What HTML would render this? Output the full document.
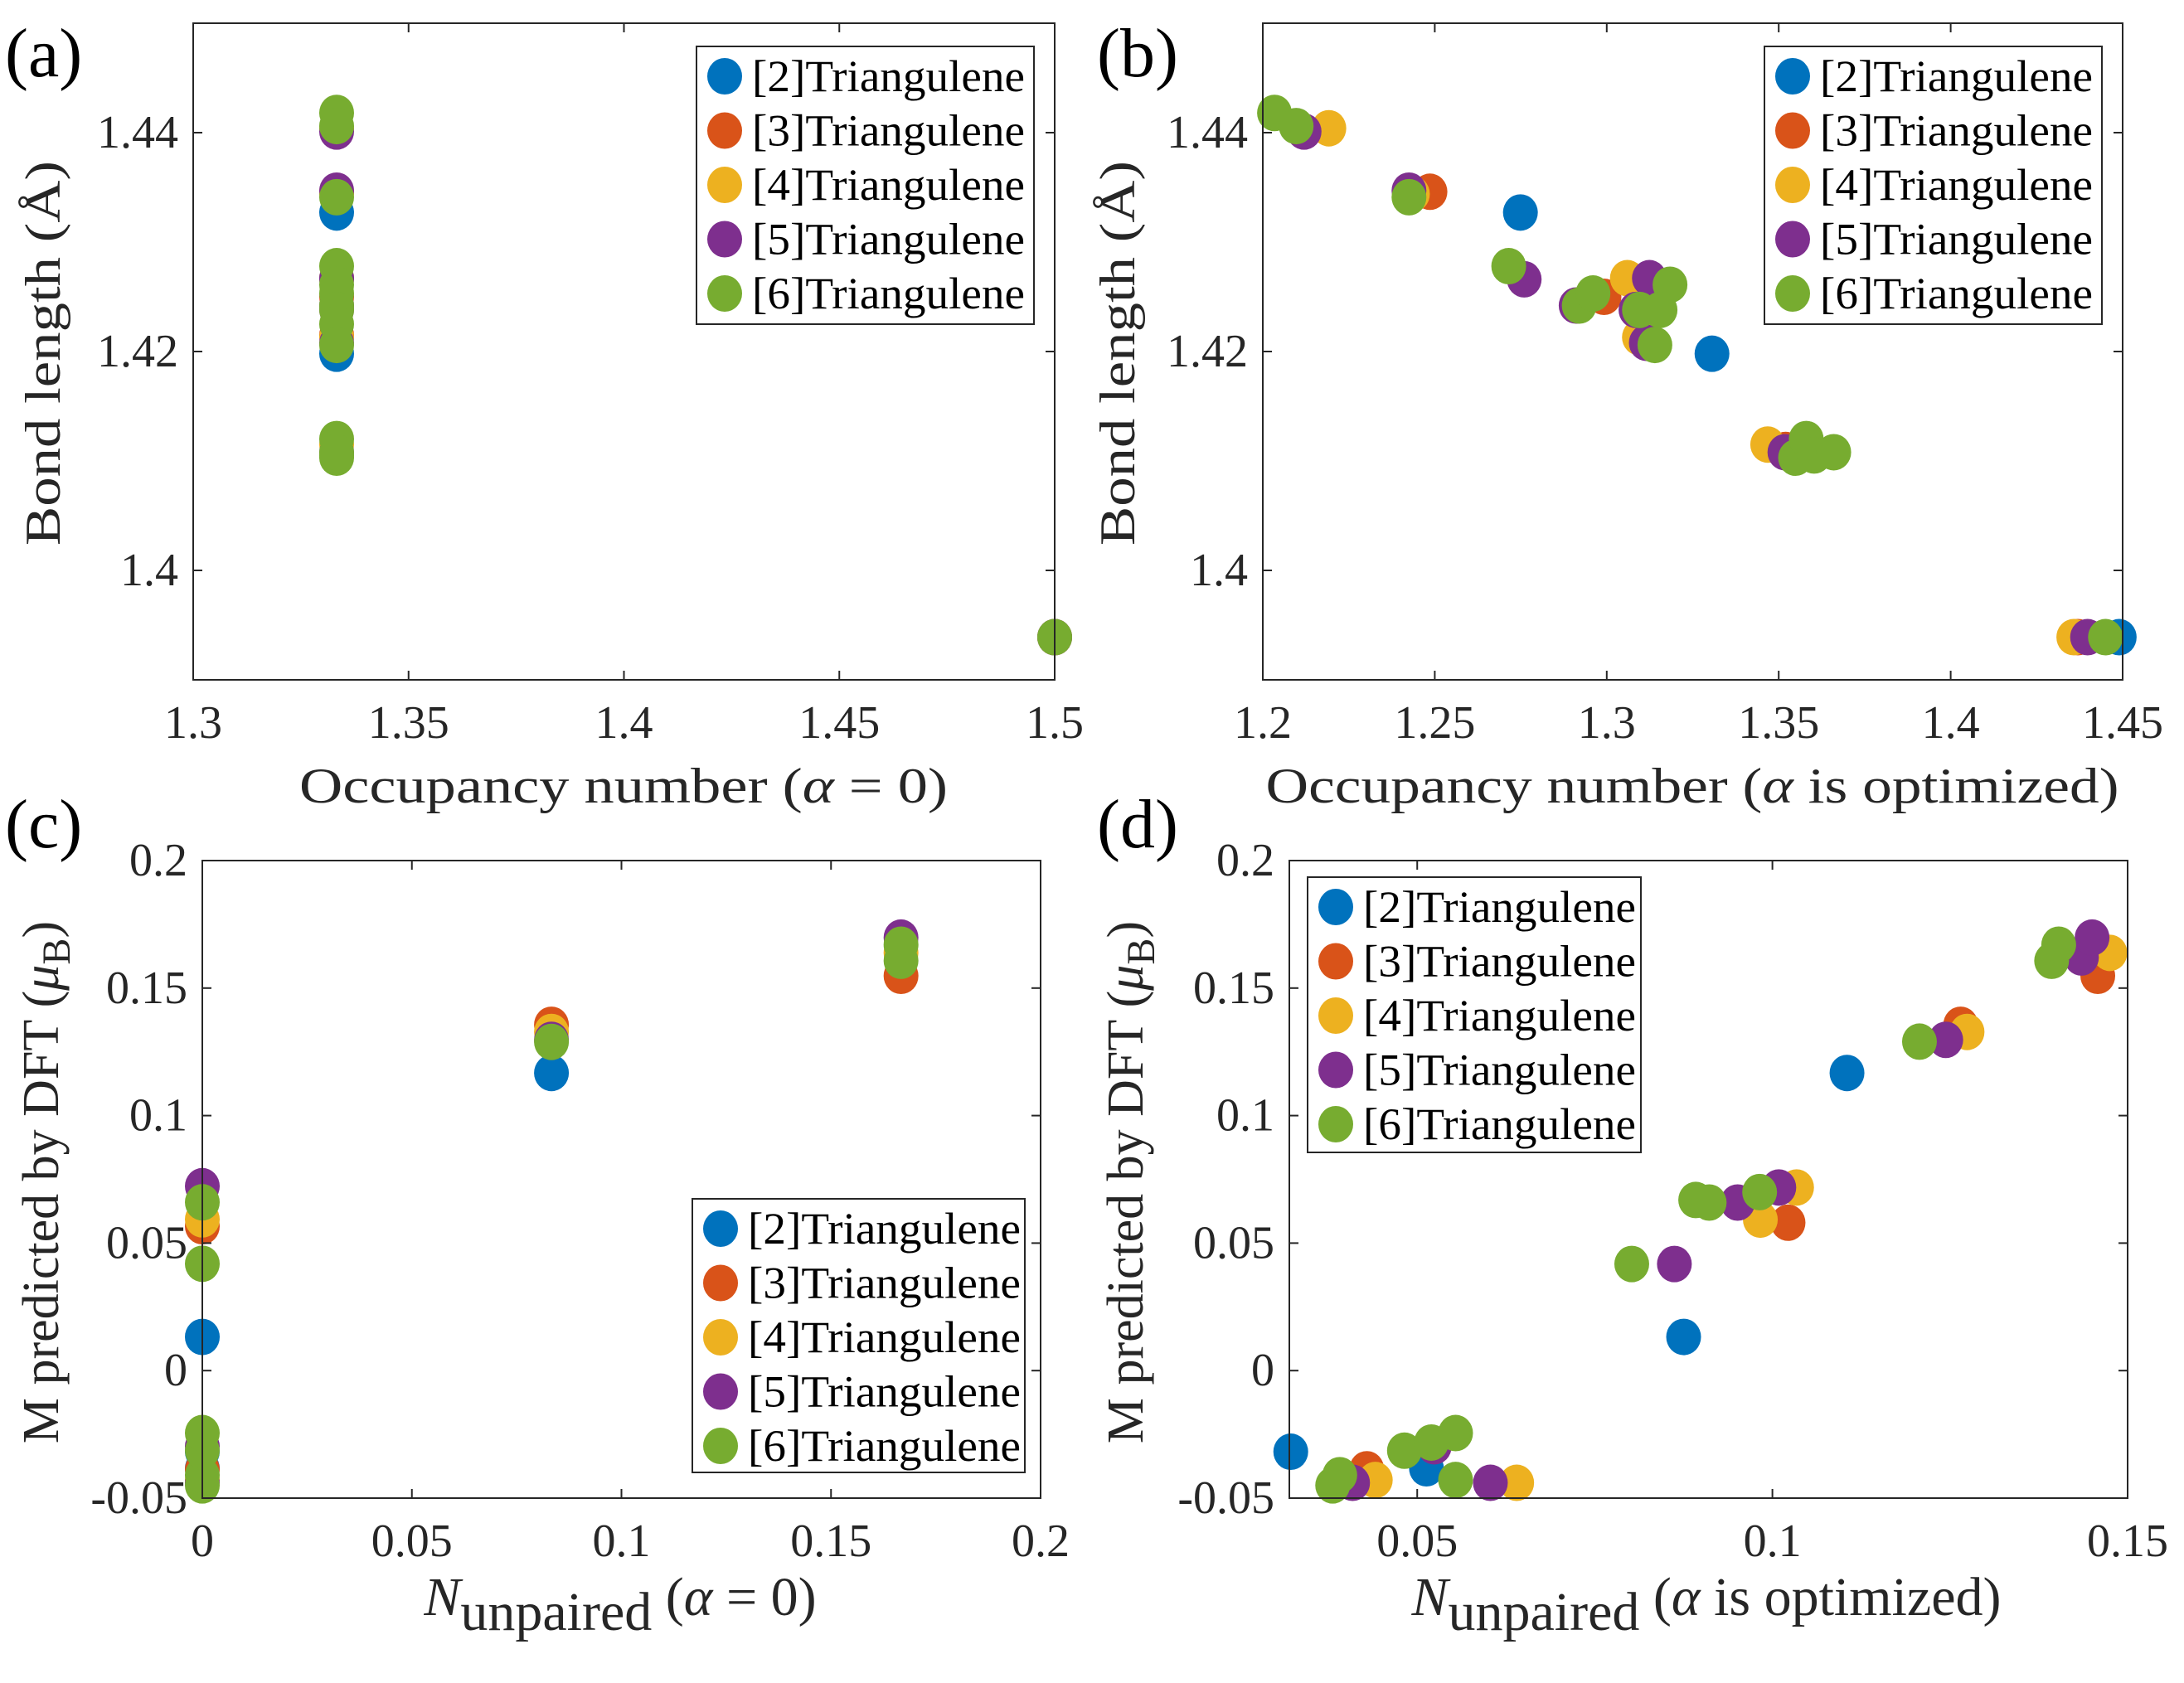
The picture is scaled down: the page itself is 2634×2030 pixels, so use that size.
<!DOCTYPE html>
<html><head><meta charset="utf-8"><style>
html,body{margin:0;padding:0;background:#fff;}
svg, svg text{font-family:"Liberation Serif","Noto Serif CJK SC","DejaVu Serif",serif;}
</style></head><body>
<svg id="fig" width="2634" height="2025" viewBox="0 0 2634 2025" xmlns="http://www.w3.org/2000/svg">
<rect x="0" y="0" width="2634" height="2025" fill="#fff"/>
</svg>
<script>
const seriesNames = ["[2]Triangulene","[3]Triangulene","[4]Triangulene","[5]Triangulene","[6]Triangulene"];
const seriesColors = ["#0072BD","#D95319","#EDB120","#7E2F8E","#77AC30"];

// Panel (a)
const aX = [
 [1.3333,1.3333,1.5],
 [1.3333,1.3333,1.3333,1.5],
 [1.3333,1.3333,1.3333,1.3333,1.3333,1.5],
 [1.3333,1.3333,1.3333,1.3333,1.3333,1.3333,1.3333,1.3333,1.5],
 [1.3333,1.3333,1.3333,1.3333,1.3333,1.3333,1.3333,1.3333,1.3333,1.3333,1.3333,1.3333,1.3333,1.3333,1.5]
];
const aY = [
 [1.4327,1.4198,1.3939],
 [1.4346,1.4250,1.4215,1.3939],
 [1.4404,1.4344,1.4267,1.4213,1.4115,1.3939],
 [1.4401,1.4347,1.4266,1.4242,1.4267,1.4238,1.4208,1.4108,1.3939],
 [1.4418,1.4406,1.4341,1.4278,1.4242,1.4253,1.4261,1.4238,1.4225,1.4206,1.4103,1.4120,1.4105,1.4108,1.3939]
];
// Panel (b)
const bX = [
 [1.2749,1.3306,1.449],
 [1.2486,1.2992,1.3100,1.352,1.437],
 [1.2192,1.2435,1.306,1.3095,1.3468,1.4358],
 [1.212,1.2425,1.276,1.2911,1.3124,1.3085,1.3115,1.3518,1.4398],
 [1.2034,1.2097,1.2425,1.2715,1.292,1.296,1.3184,1.3095,1.3155,1.314,1.3549,1.358,1.3603,1.366,1.445]
];
const bY = [
 [1.4327,1.4198,1.3939],
 [1.4346,1.4250,1.4215,1.4110,1.3939],
 [1.4404,1.4344,1.4267,1.4213,1.4115,1.3939],
 [1.4401,1.4347,1.4266,1.4242,1.4267,1.4238,1.4208,1.4108,1.3939],
 [1.4418,1.4406,1.4341,1.4278,1.4242,1.4253,1.4261,1.4238,1.4238,1.4206,1.4103,1.4120,1.4105,1.4108,1.3939]
];
// Panel (c)
const cX = [
 [0,0,0,0.0833],
 [0,0,0.0833,0.1667],
 [0,0,0.0833,0.1667],
 [0,0,0,0.0833,0.1667],
 [0,0,0,0,0,0,0.0833,0.1667,0.1667]
];
const cY = [
 [-0.0318,-0.0383,0.0132,0.1167],
 [-0.0387,0.0566,0.1356,0.1548],
 [-0.0429,0.0593,0.1328,0.1638],
 [-0.0440,-0.0297,0.0723,0.1297,0.1698],
 [-0.0450,-0.0410,-0.0314,-0.0245,0.0419,0.0660,0.1289,0.1607,0.1670]
];
// Panel (d)
const dX = [
 [0.0322,0.0513,0.0875,0.1105],
 [0.0429,0.1022,0.1265,0.1458],
 [0.0441,0.0640,0.0983,0.1034,0.1274,0.1475],
 [0.0409,0.0524,0.0603,0.0862,0.0951,0.1009,0.1244,0.1435,0.1450],
 [0.0381,0.0391,0.0482,0.0520,0.0554,0.0554,0.0802,0.0892,0.0911,0.0982,0.1207,0.1393,0.1403]
];
const dY = [
 [-0.0318,-0.0383,0.0132,0.1167],
 [-0.0387,0.0580,0.1356,0.1548],
 [-0.0429,-0.0440,0.0592,0.0718,0.1328,0.1638],
 [-0.0440,-0.0297,-0.0440,0.0418,0.0659,0.0718,0.1297,0.1620,0.1698],
 [-0.0450,-0.0410,-0.0314,-0.0282,-0.0245,-0.0429,0.0418,0.0669,0.0659,0.0700,0.1290,0.1607,0.1670]
];
const aXTicks = ["1.3","1.35","1.4","1.45","1.5"];
const aYTicks = ["1.4","1.42","1.44"];
const bXTicks = ["1.2","1.25","1.3","1.35","1.4","1.45"];
const bYTicks = ["1.4","1.42","1.44"];
const cXTicks = ["0","0.05","0.1","0.15","0.2"];
const cYTicks = ["-0.05","0","0.05","0.1","0.15","0.2"];
const dXTicks = ["0.05","0.1","0.15"];
const dYTicks = ["-0.05","0","0.05","0.1","0.15","0.2"];

const NS="http://www.w3.org/2000/svg";
const FONT='"Liberation Serif", "Noto Serif CJK SC", "DejaVu Serif", serif';
const svg=document.getElementById('fig');
function mk(tag,attrs,parent){const e=document.createElementNS(NS,tag);for(const k in attrs)e.setAttribute(k,attrs[k]);if(tag==='text')e.style.fontFamily=FONT;(parent||svg).appendChild(e);return e;}

function panel(id,box,xlim,ylim,xt,yt,X,Y,leg,lbl){
  const g=mk('g',{});
  
  
  const [L,T,R,B]=box;
  const sx=v=>L+(v-xlim[0])/(xlim[1]-xlim[0])*(R-L);
  const sy=v=>B-(v-ylim[0])/(ylim[1]-ylim[0])*(B-T);
  for(let s=0;s<X.length;s++){
    for(let i=0;i<X[s].length;i++){
      const c=mk('ellipse',{cx:sx(X[s][i]),cy:sy(Y[s][i]),rx:21,ry:22,fill:seriesColors[s]},g);
      
      
    }
  }
  const ax=mk('rect',{x:L,y:T,width:R-L,height:B-T,fill:'none',stroke:'#262626','stroke-width':2},g);
  
  
  xt.forEach(t=>{const x=sx(parseFloat(t));
    mk('line',{x1:x,x2:x,y1:B,y2:B-11,stroke:'#262626','stroke-width':2},g);
    mk('line',{x1:x,x2:x,y1:T,y2:T+11,stroke:'#262626','stroke-width':2},g);
    const tx=mk('text',{x:x,y:B+70,'font-size':56,'text-anchor':'middle',fill:'#262626'},g);
    tx.textContent=t;
    
    
  });
  yt.forEach(t=>{const y=sy(parseFloat(t));
    mk('line',{x1:L,x2:L+11,y1:y,y2:y,stroke:'#262626','stroke-width':2},g);
    mk('line',{x1:R,x2:R-11,y1:y,y2:y,stroke:'#262626','stroke-width':2},g);
    const tx=mk('text',{x:L-18,y:y+18,'font-size':56,'text-anchor':'end',fill:'#262626'},g);
    tx.textContent=t;
    
    
  });
  const [lx,ly,lw,lh]=leg;
  const lg=mk('g',{},g);
  
  
  mk('rect',{x:lx,y:ly,width:lw,height:lh,fill:'#fff',stroke:'#262626','stroke-width':2},lg);
  seriesNames.forEach((n,s)=>{
    const cy=ly+36+s*65.5;
    const m=mk('ellipse',{cx:lx+34,cy:cy,rx:21,ry:22,fill:seriesColors[s]},lg);
    
    
    const t=mk('text',{x:lx+67,y:cy+18,'font-size':54,fill:'#000',textLength:329,lengthAdjust:'spacingAndGlyphs'},lg);
    t.textContent=n;
    
    
  });
  const pl=mk('text',{x:lbl[0],y:lbl[1],'font-size':84,fill:'#000'},g);
  pl.textContent='('+id+')';
  
  
}

panel('a',[233,28,1272,820],[1.3,1.5],[1.39,1.45],aXTicks,aYTicks,aX,aY,[840,56,407,335],[6,92]);
panel('b',[1523,28,2560,820],[1.2,1.45],[1.39,1.45],bXTicks,bYTicks,bX,bY,[2128,56,407,335],[1323,92]);
panel('c',[244,1038,1255,1807],[0,0.2],[-0.05,0.2],cXTicks,cYTicks,cX,cY,[835,1446,401,330],[6,1022]);
panel('d',[1555,1038,2566,1807],[0.032,0.15],[-0.05,0.2],dXTicks,dYTicks,dX,dY,[1577,1058,402,332],[1323,1022]);

function label(html,x,y,rot,len,name,fs){
  const t=mk('text',{x:x,y:y,'font-size':fs||60,'text-anchor':'middle',fill:'#262626'});
  if(rot) t.setAttribute('transform','rotate(-90 '+x+' '+y+')');
  if(len){t.setAttribute('textLength',len);t.setAttribute('lengthAdjust','spacingAndGlyphs');}
  t.innerHTML=html;
  
  
}
label('Bond length (Å)',72,426,true,464,'y-axis-title-a');
label('Bond length (Å)',1368,426,true,464,'y-axis-title-b');
label('Occupancy number (<tspan font-style="italic">α</tspan> = 0)',752,968,false,782,'x-axis-title-a');
label('Occupancy number (<tspan font-style="italic">α</tspan> is optimized)',2041,968,false,1029,'x-axis-title-b');
label('M predicted by DFT (<tspan font-style="italic">μ</tspan><tspan font-size="48" dy="14">B</tspan><tspan dy="-14">)</tspan>',70,1426,true,null,'y-axis-title-c',62);
label('M predicted by DFT (<tspan font-style="italic">μ</tspan><tspan font-size="48" dy="14">B</tspan><tspan dy="-14">)</tspan>',1378,1426,true,null,'y-axis-title-d',62);
label('<tspan font-style="italic">N</tspan><tspan dy="18">unpaired</tspan><tspan dy="-18"> (</tspan><tspan font-style="italic">α</tspan> = 0)',748,1948,false,null,'x-axis-title-c',66);
label('<tspan font-style="italic">N</tspan><tspan dy="18">unpaired</tspan><tspan dy="-18"> (</tspan><tspan font-style="italic">α</tspan> is optimized)',2058,1948,false,null,'x-axis-title-d',66);
</script>
</body></html>
